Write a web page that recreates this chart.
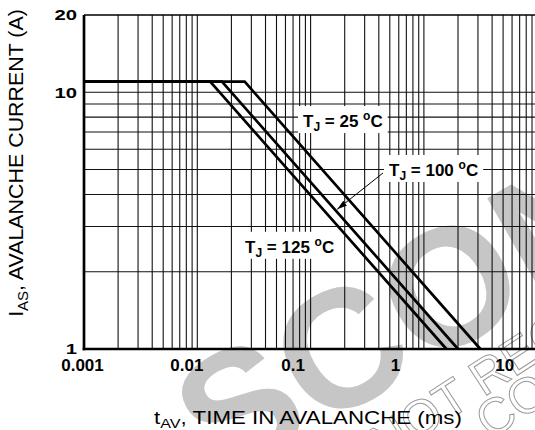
<!DOCTYPE html>
<html>
<head>
<meta charset="utf-8">
<script src="https://cdn.jsdelivr.net/npm/d3@7"></script>
<style>
  body { margin: 0; background: #fff; }
  text { font-family: "Liberation Sans", Arial, sans-serif; }
</style>
</head>
<body>
<div id="graf"></div>
<script>
// Datos
const temperaturas = ["25", "100", "125"]
const tiempoInicio = 0.001
const tiempoQuiebre = [0.0262, 0.0165, 0.013] // ms, fin de la meseta
const tiempoFinal = [3.15, 2.0, 1.58] // ms, la curva llega a 1 A
const corrienteMeseta = 11
const corrienteFinal = 1

const xTicks = [0.001, 0.01, 0.1, 1, 10]
const xTickLabels = ["0.001", "0.01", "0.1", "1", "10"]
const yTicks = [1, 10, 20]
const yTickLabels = ["1", "10", "20"]

// Anotaciones (en unidades de datos)
const etiquetaT = [0.0857, 0.492, 0.0264]
const etiquetaI = [7.32, 4.72, 2.37]
const flechaT = 0.172 // punta de la flecha sobre la curva de 100 C

// Dimensiones
const anchoTotal = 535
const altoTotal = 430
const margins = { top: 15, bottom: 81, left: 84 }
const decada = 113.3
const alto = altoTotal - margins.top - margins.bottom

const svg = d3
  .select("#graf")
  .append("svg")
  .attr("width", anchoTotal)
  .attr("height", altoTotal)

// Escaladores
const x = d3
  .scaleLog()
  .domain([0.001, 10])
  .range([margins.left, margins.left + 4 * decada])
const y = d3
  .scaleLog()
  .domain([1, 20])
  .range([margins.top + alto, margins.top])

// Marca de agua
const marca = svg.append("g")
marca
  .append("text")
  .attr("transform", "translate(220,486) rotate(-30)")
  .attr("font-size", 168)
  .attr("font-weight", "bold")
  .attr("fill", "#c6c6c6")
  .text("SCONTINUED")
marca
  .append("text")
  .attr("transform", "translate(384,462) rotate(-33)")
  .attr("font-size", 50)
  .attr("fill", "none")
  .attr("stroke", "#9a9a9a")
  .attr("stroke-width", 1)
  .text("NOT RECOMMENDED")
marca
  .append("text")
  .attr("transform", "translate(490,440) rotate(-33)")
  .attr("font-size", 50)
  .attr("fill", "none")
  .attr("stroke", "#9a9a9a")
  .attr("stroke-width", 1)
  .text("CONTACT")

// Rejilla
const xGrid = d3
  .range(-3, 1)
  .flatMap((e) => d3.range(1, 10).map((m) => +(m * 10 ** e).toPrecision(3)))
  .concat([10])
const yGrid = d3.range(2, 11)

const rejilla = svg.append("g").attr("stroke", "#111").attr("stroke-width", 1.1)
rejilla
  .selectAll("line.v")
  .data(xGrid)
  .enter()
  .append("line")
  .attr("class", "v")
  .attr("x1", (d) => x(d))
  .attr("x2", (d) => x(d))
  .attr("y1", y(20))
  .attr("y2", y(1))
rejilla
  .selectAll("line.h")
  .data(yGrid)
  .enter()
  .append("line")
  .attr("class", "h")
  .attr("x1", x(0.001))
  .attr("x2", anchoTotal)
  .attr("y1", (d) => y(d))
  .attr("y2", (d) => y(d))

// Borde superior
svg
  .append("line")
  .attr("x1", x(0.001))
  .attr("x2", anchoTotal)
  .attr("y1", y(20))
  .attr("y2", y(20))
  .attr("stroke", "#000")
  .attr("stroke-width", 1.3)

// Curvas
const series = temperaturas.map((t, i) => [
  [tiempoInicio, corrienteMeseta],
  [tiempoQuiebre[i], corrienteMeseta],
  [tiempoFinal[i], corrienteFinal],
])
const corriente = (i, t) => {
  const k = Math.log(corrienteMeseta / corrienteFinal) / Math.log(tiempoFinal[i] / tiempoQuiebre[i])
  return corrienteMeseta * Math.pow(tiempoQuiebre[i] / t, k)
}

// Etiquetas de temperatura
const etiquetas = svg.append("g")
temperaturas.forEach((temp, i) => {
  const g = etiquetas.append("g")
  const rect = g.append("rect").attr("fill", "#fff")
  const t = g
    .append("text")
    .attr("x", x(etiquetaT[i]))
    .attr("y", y(etiquetaI[i]))
    .attr("font-size", 17)
    .attr("font-weight", "bold")
  t.append("tspan").text("T")
  t.append("tspan").attr("font-size", 12).attr("dy", 4).text("J")
  t.append("tspan").attr("dy", -4).text(` = ${temp} `)
  t.append("tspan").attr("font-size", 12).attr("dy", -7).text("o")
  t.append("tspan").attr("dy", 7).text("C")
  const bb = t.node().getBBox()
  rect
    .attr("x", bb.x - 5)
    .attr("y", bb.y - 3)
    .attr("width", bb.width + 10)
    .attr("height", bb.height + 2)
})

// Flecha de la etiqueta de 100 C
svg
  .append("defs")
  .append("marker")
  .attr("id", "punta")
  .attr("viewBox", "0 0 10 6")
  .attr("refX", 10)
  .attr("refY", 3)
  .attr("markerWidth", 10)
  .attr("markerHeight", 6)
  .attr("markerUnits", "userSpaceOnUse")
  .attr("orient", "auto")
  .append("path")
  .attr("d", "M0,0L10,3L0,6Z")
  .attr("fill", "#000")
svg
  .append("line")
  .attr("x1", x(etiquetaT[1]) - 6)
  .attr("y1", y(etiquetaI[1]) - 3)
  .attr("x2", x(flechaT))
  .attr("y2", y(corriente(1, flechaT)) - 3)
  .attr("stroke", "#000")
  .attr("stroke-width", 1)
  .attr("marker-end", "url(#punta)")

const linea = d3
  .line()
  .x((d) => x(d[0]))
  .y((d) => y(d[1]))
svg
  .append("g")
  .selectAll("path")
  .data(series)
  .enter()
  .append("path")
  .attr("d", linea)
  .attr("fill", "none")
  .attr("stroke", "#000")
  .attr("stroke-width", 2.7)

// Ejes (lineas gruesas)
svg
  .append("line")
  .attr("x1", x(0.001))
  .attr("x2", x(0.001))
  .attr("y1", y(20))
  .attr("y2", y(1) + 1.3)
  .attr("stroke", "#000")
  .attr("stroke-width", 2.7)
svg
  .append("line")
  .attr("x1", x(0.001) - 1.3)
  .attr("x2", anchoTotal)
  .attr("y1", y(1))
  .attr("y2", y(1))
  .attr("stroke", "#000")
  .attr("stroke-width", 2.7)

// Etiquetas de los ejes
const corrimientoX = [-2, -11, -18, -29, -33]
const xAxis = d3
  .axisBottom(x)
  .tickValues(xTicks)
  .tickFormat((d, i) => xTickLabels[i])
  .tickSize(0)
const xAxisGroup = svg
  .append("g")
  .attr("transform", `translate(0, ${y(1)})`)
  .call(xAxis)
xAxisGroup.select(".domain").remove()
xAxisGroup
  .selectAll("text")
  .attr("y", 22)
  .attr("dy", 0)
  .attr("dx", (d, i) => corrimientoX[i])
  .attr("fill", "#000")
  .attr("font-size", 17)
  .attr("font-weight", "bold")
  .style("font-family", '"Liberation Sans", Arial, sans-serif')

const yAxis = d3
  .axisLeft(y)
  .tickValues(yTicks)
  .tickFormat((d, i) => yTickLabels[i])
  .tickSize(0)
const yAxisGroup = svg
  .append("g")
  .attr("transform", `translate(${x(0.001)}, 0)`)
  .call(yAxis)
yAxisGroup.select(".domain").remove()
yAxisGroup
  .selectAll("text")
  .attr("x", 0)
  .attr("dy", "0.33em")
  .attr("transform", "translate(-7,0) scale(1.35,1)")
  .attr("fill", "#000")
  .attr("font-size", 15)
  .attr("font-weight", "bold")
  .style("font-family", '"Liberation Sans", Arial, sans-serif')

// Titulos
const tituloX = svg
  .append("text")
  .attr("text-anchor", "middle")
  .attr("font-size", 18)
tituloX.append("tspan").text("t")
tituloX.append("tspan").attr("font-size", 13).attr("dy", 4).text("AV")
tituloX.append("tspan").attr("dy", -4).text(", TIME IN AVALANCHE (ms)")
const sx = 308 / tituloX.node().getBBox().width
tituloX.attr("transform", `translate(308, 424) scale(${sx}, 1)`)

const tituloY = svg
  .append("text")
  .attr("text-anchor", "middle")
  .attr("font-size", 20)
tituloY.append("tspan").text("I")
tituloY.append("tspan").attr("font-size", 14).attr("dy", 5).text("AS")
tituloY.append("tspan").attr("dy", -5).text(", AVALANCHE CURRENT (A)")
const sy = 308 / tituloY.node().getBBox().width
tituloY.attr("transform", `translate(23, 163) rotate(-90) scale(${sy}, 1)`)
</script>
</body>
</html>
